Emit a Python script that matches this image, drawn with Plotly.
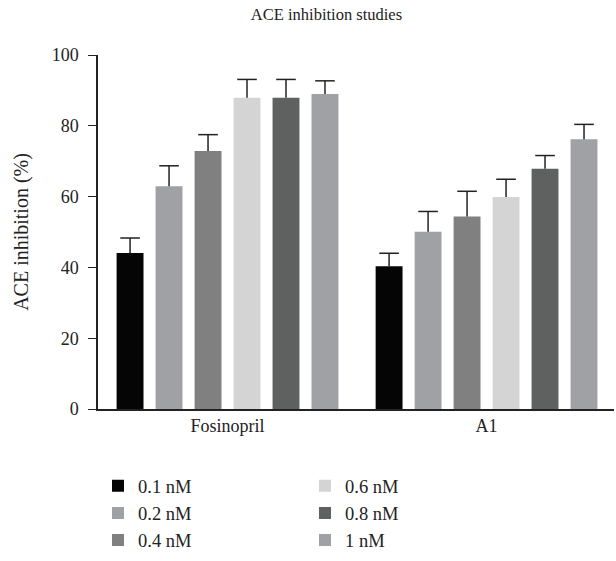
import plotly.graph_objects as go

categories = ["Fosinopril", "A1"]
series_names = ["0.1 nM", "0.2 nM", "0.4 nM", "0.6 nM", "0.8 nM", "1 nM"]
values = [
    [44.1, 40.3],
    [62.9, 50.1],
    [72.9, 54.4],
    [87.9, 59.9],
    [87.9, 67.9],
    [89.0, 76.2],
]
errors = [
    [4.2, 3.7],
    [5.8, 5.7],
    [4.6, 7.1],
    [5.2, 5.0],
    [5.2, 3.7],
    [3.7, 4.2],
]
colors = ["#050505", "#a0a1a4", "#808080", "#d4d4d4", "#5f6160", "#a0a1a4"]
legend_ranks = [1, 3, 5, 2, 4, 6]

FONT = "Liberation Serif"
INK = "#222222"

fig = go.Figure()
for i, (name, vals, col, rank) in enumerate(zip(series_names, values, colors, legend_ranks)):
    fig.add_trace(go.Bar(
        x=categories, y=vals, name=name,
        marker=dict(color=col, line=dict(width=0)),
        offsetgroup=str(i), legendrank=rank,
    ))
# upper-only error bars: cap drawn as a marker at the top, stem as a cap-less error bar
for i, (vals, errs) in enumerate(zip(values, errors)):
    fig.add_trace(go.Scatter(
        x=categories, y=[v + e for v, e in zip(vals, errs)],
        mode="markers", showlegend=False, hoverinfo="skip",
        marker=dict(symbol="line-ew", size=14, color=INK, line=dict(width=1.5, color=INK)),
        error_y=dict(type="data", array=[0] * len(errs), arrayminus=errs,
                     symmetric=False, color=INK, thickness=1.5, width=0),
        offsetgroup=str(i),
    ))

fig.update_layout(
    width=616, height=561,
    margin=dict(l=98, r=2, t=55, b=152, autoexpand=False),
    paper_bgcolor="white", plot_bgcolor="white",
    font=dict(family=FONT, size=18, color=INK),
    title=dict(text="ACE inhibition studies", x=0.53, xanchor="center",
               y=0.985, yanchor="top", font=dict(family=FONT, size=16.5, color=INK)),
    barmode="group", bargap=0.097, bargroupgap=0.31,
    scattermode="group", scattergap=0.097,
    showlegend=True,
    legend=dict(orientation="h", x=0.0, xanchor="left",
                yref="container", y=0.167, yanchor="top",
                entrywidth=162, entrywidthmode="pixels",
                font=dict(family=FONT, size=18.5, color=INK),
                traceorder="normal", itemclick=False),
)
fig.update_xaxes(
    type="category", range=[-0.5, 1.492],
    showline=True, linecolor=INK, linewidth=1.5,
    ticks="", showgrid=False, zeroline=False,
    tickfont=dict(family=FONT, size=18, color=INK),
)
fig.update_yaxes(
    range=[0, 100], tickvals=[0, 20, 40, 60, 80, 100],
    showline=True, linecolor=INK, linewidth=1.5,
    ticks="outside", ticklen=8, tickwidth=1.2, tickcolor=INK,
    ticklabelstandoff=6,
    showgrid=False, zeroline=False,
    title=dict(text="ACE inhibition (%)", standoff=18,
               font=dict(family=FONT, size=20, color=INK)),
    tickfont=dict(family=FONT, size=18, color=INK),
)

fig.write_html("out.html", config={"displayModeBar": False},
               post_script="document.body.style.margin='0';")
